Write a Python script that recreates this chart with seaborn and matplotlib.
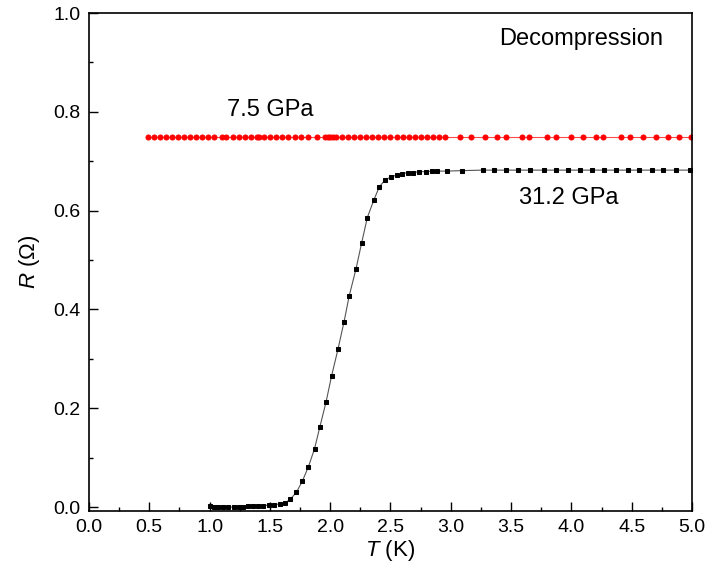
"""
R(T) under decompression - two pressure curves, 7.5 GPa (flat) and 31.2 GPa (superconducting drop).
"""

import numpy as np
import pandas as pd
import matplotlib
matplotlib.use("Agg")
import matplotlib.pyplot as plt
from matplotlib.ticker import MultipleLocator
import seaborn as sns


# ──────────────────────────────────────────────
# Data
# ──────────────────────────────────────────────

t_75 = [0.49, 0.54, 0.59, 0.64, 0.69, 0.74, 0.79, 0.84, 0.89, 0.94, 0.99, 1.04,
        1.10, 1.14, 1.19, 1.24, 1.29, 1.34, 1.39, 1.41, 1.45, 1.50, 1.55, 1.60,
        1.65, 1.71, 1.76, 1.82, 1.89, 1.96, 1.98, 2.00, 2.02, 2.05, 2.10, 2.15,
        2.20, 2.25, 2.30, 2.35, 2.40, 2.45, 2.50, 2.55, 2.60, 2.65, 2.70, 2.75,
        2.80, 2.85, 2.90, 2.95, 3.08, 3.17, 3.28, 3.38, 3.46, 3.59, 3.65, 3.80,
        3.87, 4.00, 4.10, 4.20, 4.26, 4.41, 4.49, 4.59, 4.70, 4.80, 4.89, 4.99]
r_75 = [0.749] * len(t_75)  # flat trace, constant reading

t_312 = [1.00, 1.04, 1.07, 1.11, 1.155, 1.20, 1.24, 1.28, 1.32, 1.36, 1.40, 1.445,
         1.49, 1.53, 1.58, 1.625, 1.67, 1.72, 1.77, 1.82, 1.87, 1.915, 1.965, 2.012,
         2.065, 2.114, 2.158, 2.214, 2.261, 2.308, 2.361, 2.407, 2.454, 2.502, 2.551, 2.598,
         2.643, 2.689, 2.739, 2.792, 2.842, 2.888, 2.966, 3.095, 3.265, 3.361, 3.458, 3.56,
         3.66, 3.77, 3.87, 3.97, 4.07, 4.17, 4.27, 4.37, 4.47, 4.56, 4.67, 4.76,
         4.87, 4.98]
r_312 = [0.002, 0.001, 0.001, 0.000, 0.000, 0.000, 0.001, 0.001, 0.002, 0.002, 0.003, 0.003,
         0.004, 0.005, 0.006, 0.008, 0.016, 0.030, 0.053, 0.082, 0.118, 0.163, 0.212, 0.266,
         0.320, 0.374, 0.428, 0.482, 0.535, 0.586, 0.621, 0.648, 0.662, 0.668, 0.672, 0.675,
         0.677, 0.677, 0.679, 0.679, 0.680, 0.680, 0.680, 0.681, 0.682, 0.682, 0.682, 0.682,
         0.682, 0.682, 0.682, 0.682, 0.682, 0.682, 0.682, 0.682, 0.682, 0.682, 0.682, 0.682,
         0.682, 0.682]

x_ticks = [0.0, 0.5, 1.0, 1.5, 2.0, 2.5, 3.0, 3.5, 4.0, 4.5, 5.0]
y_ticks = [0.0, 0.2, 0.4, 0.6, 0.8, 1.0]


# ──────────────────────────────────────────────
# Plot
# ──────────────────────────────────────────────

sns.set_theme(style="ticks")
plt.rcParams["font.family"] = ["Liberation Sans", "DejaVu Sans"]
plt.rcParams["mathtext.fontset"] = "custom"
plt.rcParams["mathtext.it"] = "Liberation Sans:italic"
plt.rcParams["mathtext.rm"] = "Liberation Sans"
for key in ["text.color", "axes.labelcolor", "xtick.color", "ytick.color", "axes.edgecolor"]:
    plt.rcParams[key] = "black"

fig = plt.figure(figsize=(7.08, 5.76), dpi=100)
ax = fig.add_axes([0.1257, 0.1128, 0.8517, 0.8646])

df75 = pd.DataFrame({"T": t_75, "R": r_75})
df312 = pd.DataFrame({"T": t_312, "R": r_312})

sns.lineplot(data=df75, x="T", y="R", ax=ax, color="#ff4a4a", linewidth=0.8,
             marker="o", markersize=3.6, markerfacecolor="red",
             markeredgecolor="red", estimator=None, sort=False)
sns.lineplot(data=df312, x="T", y="R", ax=ax, color="#555555", linewidth=0.8,
             marker="s", markersize=3.4, markerfacecolor="black",
             markeredgecolor="black", estimator=None, sort=False)

ax.set_xlim(0, 5)
ax.set_ylim(-0.008, 1.0)
ax.set_xticks(x_ticks)
ax.set_yticks(y_ticks)
ax.set_xticklabels([f"{v:.1f}" for v in x_ticks])
ax.set_yticklabels([f"{v:.1f}" for v in y_ticks])
ax.xaxis.set_minor_locator(MultipleLocator(0.25))
ax.yaxis.set_minor_locator(MultipleLocator(0.1))

ax.tick_params(which="both", direction="in", top=False, right=False,
               width=1.0, colors="black", labelsize=14)
ax.tick_params(which="major", length=6.5, pad=6)
ax.tick_params(which="minor", length=3)
for s in ax.spines.values():
    s.set_linewidth(1.2)
    s.set_color("black")
    s.set_visible(True)

ax.set_xlabel(r"$T$ (K)", fontsize=16, labelpad=1)
ax.set_ylabel(r"$R$ ($\Omega$)", fontsize=16, labelpad=8)

ax.text(0.816, 0.947, "Decompression", transform=ax.transAxes,
        fontsize=17, ha="center", va="center")
ax.text(1.50, 0.803, "7.5 GPa", fontsize=17, ha="center", va="center")
ax.text(3.98, 0.626, "31.2 GPa", fontsize=17, ha="center", va="center")

fig.savefig("out.png", dpi=100)
